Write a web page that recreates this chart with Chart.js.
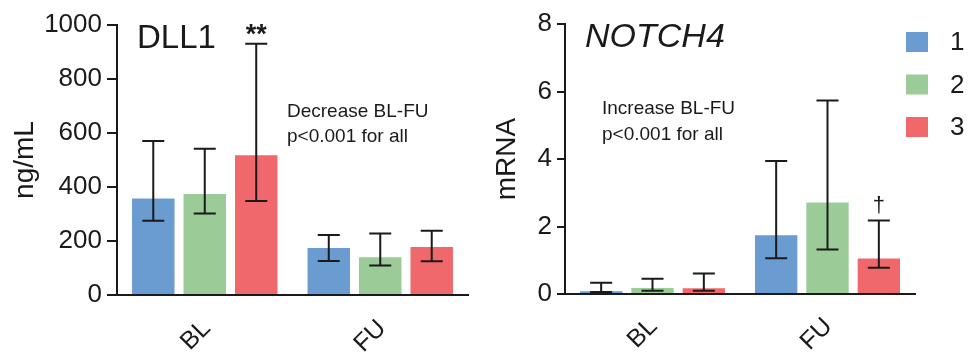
<!DOCTYPE html>
<html>
<head>
<meta charset="utf-8">
<script src="https://cdn.jsdelivr.net/npm/chart.js@4.4.0/dist/chart.umd.min.js"></script>
<style>
  html, body { margin: 0; padding: 0; background: #fff; }
  #wrap { position: relative; width: 969px; height: 354px; overflow: hidden; }
  canvas { position: absolute; top: 0; }
  #leftChart { left: 0; }
  #rightChart { left: 480px; }
</style>
</head>
<body>
<div id="wrap">
  <canvas id="leftChart" width="480" height="354"></canvas>
  <canvas id="rightChart" width="489" height="354"></canvas>
</div>
<script>
// Categories and groups shared by both panels
const categories = ["BL", "FU"];
const groups = ["1", "2", "3"];
const groupColors = ["#6a9bd1", "#9bcb97", "#f0686c"];

// DLL1 in ng/mL, one row per group, columns are BL and FU
const dll1Mean = [[357, 174], [374, 140], [518, 178]];
const dll1Low = [[275, 126], [302, 109], [348, 125]];
const dll1High = [[570, 222], [542, 228], [931, 238]];
const dll1Sig = [["", ""], ["", ""], ["**", ""]];
const dll1Ticks = [0, 200, 400, 600, 800, 1000];

// NOTCH4 mRNA, same layout
const notch4Mean = [[0.08, 1.74], [0.18, 2.71], [0.17, 1.05]];
const notch4Low = [[0.06, 1.06], [0.10, 1.32], [0.10, 0.78]];
const notch4High = [[0.33, 3.94], [0.45, 5.73], [0.61, 2.18]];
const notch4Sig = [["", ""], ["", ""], ["", "\u2020"]];
const notch4Ticks = [0, 2, 4, 6, 8];

const FONT = "'Liberation Sans', Arial, Helvetica, sans-serif";
const INK = "#1a1a1a";
Chart.defaults.font.family = FONT;
Chart.defaults.color = INK;

// Draws error bars, significance marks, free text and the legend
const panelExtras = {
  id: "panelExtras",
  afterDatasetsDraw(chart, args, opts) {
    const ctx = chart.ctx;
    const yScale = chart.scales.y;
    ctx.save();
    ctx.strokeStyle = INK;
    ctx.fillStyle = INK;
    ctx.lineWidth = 2;
    chart.data.datasets.forEach((ds, i) => {
      const meta = chart.getDatasetMeta(i);
      meta.data.forEach((bar, j) => {
        const yLo = yScale.getPixelForValue(ds.errLow[j]);
        const yHi = yScale.getPixelForValue(ds.errHigh[j]);
        const half = 11;
        ctx.beginPath();
        ctx.moveTo(bar.x, yLo);
        ctx.lineTo(bar.x, yHi);
        ctx.moveTo(bar.x - half, yLo);
        ctx.lineTo(bar.x + half, yLo);
        ctx.moveTo(bar.x - half, yHi);
        ctx.lineTo(bar.x + half, yHi);
        ctx.stroke();
        if (ds.sig[j]) {
          ctx.font = opts.sigFont;
          ctx.textAlign = "center";
          ctx.textBaseline = "alphabetic";
          ctx.fillText(ds.sig[j], bar.x, yHi - opts.sigGap);
        }
      });
    });
    // plain text items
    (opts.items || []).forEach(it => {
      ctx.font = it.font;
      ctx.textAlign = "left";
      ctx.textBaseline = "alphabetic";
      ctx.fillText(it.text, it.x, it.y);
    });
    // legend
    if (opts.legend) {
      const lg = opts.legend;
      chart.data.datasets.forEach((ds, i) => {
        const top = lg.y + i * lg.step;
        ctx.fillStyle = ds.backgroundColor;
        ctx.fillRect(lg.x, top, lg.w, lg.h);
        ctx.fillStyle = INK;
        ctx.font = lg.font;
        ctx.textAlign = "left";
        ctx.textBaseline = "middle";
        ctx.fillText(ds.label, lg.textX, top + lg.h / 2 + 1);
      });
    }
    ctx.restore();
  }
};

function buildDatasets(means, lows, highs, sigs) {
  return groups.map((g, i) => ({
    label: g,
    data: means[i],
    errLow: lows[i],
    errHigh: highs[i],
    sig: sigs[i],
    backgroundColor: groupColors[i],
    borderWidth: 0,
    categoryPercentage: 0.88,
    barPercentage: 0.825
  }));
}

function makePanel(canvas, cfg) {
  return new Chart(canvas.getContext("2d"), {
    type: "bar",
    data: { labels: categories, datasets: cfg.datasets },
    options: {
      responsive: false,
      animation: false,
      layout: { padding: cfg.padding },
      plugins: {
        legend: { display: false },
        tooltip: { enabled: false },
        panelExtras: cfg.extras
      },
      scales: {
        x: {
          grid: { display: false, drawTicks: false },
          border: { display: true, color: INK, width: 2 },
          ticks: {
            font: { size: 25 },
            color: INK,
            minRotation: 45,
            maxRotation: 45,
            padding: cfg.xLabelPad,
            labelOffset: cfg.xLabelOffset
          },
          afterFit: s => { s.height = cfg.xHeight; }
        },
        y: {
          min: cfg.yMin,
          max: cfg.yMax,
          grid: { drawOnChartArea: false, drawTicks: true, tickLength: cfg.tickLen, color: INK, lineWidth: 2 },
          border: { display: true, color: INK, width: 2 },
          ticks: { font: { size: 26 }, color: INK, padding: 5, callback: v => String(v) },
          afterBuildTicks: s => { s.ticks = cfg.ticks.map(v => ({ value: v })); },
          title: { display: true, text: cfg.yTitle, font: { size: 28 }, color: INK, padding: { top: cfg.titlePad, bottom: 0 } },
          afterFit: s => { s.width = cfg.yWidth; }
        }
      }
    },
    plugins: [panelExtras]
  });
}

makePanel(document.getElementById("leftChart"), {
  datasets: buildDatasets(dll1Mean, dll1Low, dll1High, dll1Sig),
  padding: { left: 0, right: 12, top: 25, bottom: 0 },
  xHeight: 59, yWidth: 117, tickLen: 10, titlePad: 8,
  xLabelPad: 19, xLabelOffset: 2,
  yMin: 0, yMax: 1000, ticks: dll1Ticks, yTitle: "ng/mL",
  extras: {
    sigFont: "bold 27px " + FONT, sigGap: 1,
    items: [
      { text: "DLL1", x: 137, y: 48, font: "33px " + FONT },
      { text: "Decrease BL-FU", x: 287, y: 117, font: "19px " + FONT },
      { text: "p<0.001 for all", x: 287, y: 142, font: "19px " + FONT }
    ]
  }
});

makePanel(document.getElementById("rightChart"), {
  datasets: buildDatasets(notch4Mean, notch4Low, notch4High, notch4Sig),
  padding: { left: 0, right: 54, top: 24, bottom: 0 },
  xHeight: 60, yWidth: 85, tickLen: 8, titlePad: 10,
  xLabelPad: 18, xLabelOffset: 1,
  yMin: 0, yMax: 8, ticks: notch4Ticks, yTitle: "mRNA",
  extras: {
    sigFont: "22px " + FONT, sigGap: 8,
    items: [
      { text: "NOTCH4", x: 105, y: 47, font: "italic 34px " + FONT },
      { text: "Increase BL-FU", x: 122, y: 114, font: "19px " + FONT },
      { text: "p<0.001 for all", x: 122, y: 140, font: "19px " + FONT }
    ],
    legend: { x: 426, y: 32, step: 42.5, w: 22, h: 20, textX: 470, font: "26px " + FONT }
  }
});
</script>
</body>
</html>
